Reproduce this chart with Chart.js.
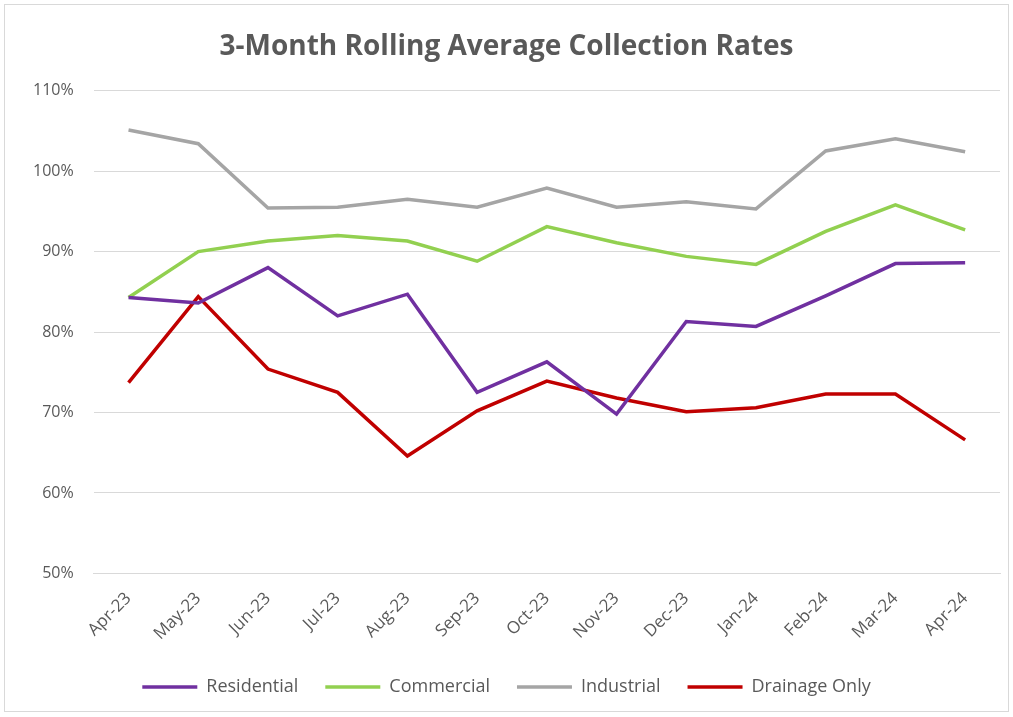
<!DOCTYPE html>
<html>
<head>
<meta charset="utf-8">
<script src="https://cdn.jsdelivr.net/npm/chart.js@4/dist/chart.umd.min.js"></script>
<style>
  html, body { margin: 0; padding: 0; background: #ffffff; }
  #frame {
    position: absolute; left: 4px; top: 4px;
    width: 1005px; height: 708px;
    border: 1px solid #d9d9d9; box-sizing: border-box;
  }
  #chart { display: block; }
</style>
</head>
<body>
<div id="frame"><canvas id="chart" width="1003" height="706"></canvas></div>
<script>
// Data -----------------------------------------------------------------------

var MONTHS = ['Apr-23', 'May-23', 'Jun-23', 'Jul-23', 'Aug-23', 'Sep-23', 'Oct-23',
              'Nov-23', 'Dec-23', 'Jan-24', 'Feb-24', 'Mar-24', 'Apr-24'];

var RESIDENTIAL = [84.3, 83.6, 88.0, 82.0, 84.7, 72.5, 76.3, 69.8, 81.3, 80.7, 84.5, 88.5, 88.6];
var COMMERCIAL  = [84.3, 90.0, 91.3, 92.0, 91.3, 88.8, 93.1, 91.1, 89.4, 88.4, 92.5, 95.8, 92.7];
var INDUSTRIAL  = [105.1, 103.4, 95.4, 95.5, 96.5, 95.5, 97.9, 95.5, 96.2, 95.3, 102.5, 104.0, 102.4];
var DRAINAGE    = [73.7, 84.4, 75.4, 72.5, 64.6, 70.2, 73.9, 71.8, 70.1, 70.6, 72.3, 72.3, 66.6];

// Style ----------------------------------------------------------------------

var FONT = 'Open Sans, Noto Sans, sans-serif';
var TEXT_COLOR = '#595959';
var GRID_COLOR = '#d9d9d9';
var LINE_WIDTH = 3.5;

function series(label, data, color) {
    return {
        label: label,
        data: data,
        borderColor: color,
        backgroundColor: color,
        borderWidth: LINE_WIDTH,
        pointRadius: 0,
        pointHoverRadius: 0,
        pointStyle: 'line',
        tension: 0,
        fill: false
    };
}

// Chart ----------------------------------------------------------------------

new Chart(document.getElementById('chart').getContext('2d'), {
    type: 'line',
    data: {
        labels: MONTHS,
        datasets: [
            series('Residential', RESIDENTIAL, '#7030a0'),
            series('Commercial', COMMERCIAL, '#92d050'),
            series('Industrial', INDUSTRIAL, '#a5a5a5'),
            series('Drainage Only', DRAINAGE, '#c00000')
        ]
    },
    options: {
        responsive: false,
        animation: false,
        layout: { padding: { left: 8, right: 8, top: 14, bottom: 5 } },
        plugins: {
            title: {
                display: true,
                text: '3-Month Rolling Average Collection Rates',
                color: TEXT_COLOR,
                font: { family: FONT, size: 28, weight: 'bold' },
                padding: { top: 11, bottom: 27 }
            },
            legend: {
                position: 'bottom',
                labels: {
                    usePointStyle: true,
                    pointStyleWidth: 55,
                    color: TEXT_COLOR,
                    font: { family: FONT, size: 18 },
                    padding: 27
                }
            },
            tooltip: { enabled: false }
        },
        scales: {
            x: {
                offset: true,
                grid: { display: false },
                border: { display: true, color: GRID_COLOR, width: 1 },
                ticks: {
                    color: TEXT_COLOR,
                    font: { family: FONT, size: 17 },
                    maxRotation: 45,
                    minRotation: 45,
                    padding: 7
                }
            },
            y: {
                min: 50,
                max: 110,
                grid: { color: GRID_COLOR, drawTicks: false },
                border: { display: false },
                ticks: {
                    stepSize: 10,
                    padding: 20,
                    color: TEXT_COLOR,
                    font: { family: FONT, size: 16 },
                    callback: function (v) { return v + '%'; }
                }
            }
        }
    }
});
</script>
</body>
</html>
